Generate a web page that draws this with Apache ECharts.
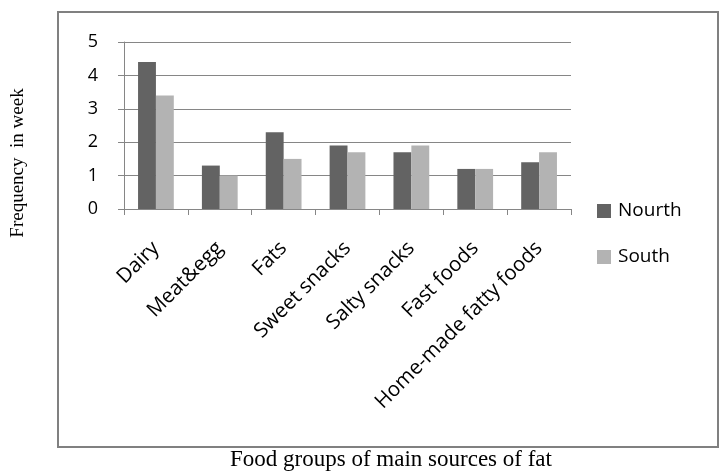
<!DOCTYPE html>
<html>
<head>
<meta charset="utf-8">
<script src="https://cdn.jsdelivr.net/npm/echarts@6/dist/echarts.min.js"></script>
<style>
  html, body { margin: 0; padding: 0; background: #fff; }
  #chart { width: 726px; height: 471px; }
</style>
</head>
<body>
<div id="chart"></div>
<script>
// Food groups and weekly intake frequency by region
const categories = ['Dairy', 'Meat&egg', 'Fats', 'Sweet snacks', 'Salty snacks', 'Fast foods', 'Home-made fatty foods'];
const north = [4.4, 1.3, 2.3, 1.9, 1.7, 1.2, 1.4];
const south = [3.4, 1.0, 1.5, 1.7, 1.9, 1.2, 1.7];
const seriesNames = ['Nourth', 'South'];
const yTicks = [0, 1, 2, 3, 4, 5];
const xTitle = 'Food groups of main sources of fat';
const yTitle = 'Frequency  in week';

const axisGray = '#868686';
const sans = '"Open Sans", "Noto Sans", sans-serif';
const serif = '"Liberation Serif", "DejaVu Serif", serif';

const chart = echarts.init(document.getElementById('chart'), null, { renderer: 'canvas' });
chart.setOption({
  animation: false,
  backgroundColor: '#ffffff',
  graphic: [
    {
      type: 'rect',
      shape: { x: 58, y: 12, width: 660, height: 435 },
      style: { fill: 'none', stroke: '#808080', lineWidth: 2 },
      z: 0
    },
    {
      type: 'text',
      x: 18, y: 163,
      rotation: Math.PI / 2,
      style: { text: yTitle, font: '19px ' + serif, fill: '#000', align: 'center', verticalAlign: 'middle' }
    },
    {
      type: 'text',
      x: 391, y: 460,
      style: { text: xTitle, font: '23px ' + serif, fill: '#000', align: 'center', verticalAlign: 'middle' }
    }
  ],
  grid: { left: 124, right: 155, top: 42, bottom: 262, outerBoundsMode: 'none', containLabel: false },
  legend: {
    orient: 'vertical',
    left: 592,
    top: 196,
    itemWidth: 14,
    itemHeight: 14,
    itemGap: 26,
    icon: 'rect',
    data: seriesNames,
    textStyle: { fontFamily: sans, fontSize: 19, color: '#000', lineHeight: 20, padding: [0, 0, 0, 2] }
  },
  xAxis: {
    type: 'category',
    data: categories,
    axisLine: { lineStyle: { color: axisGray, width: 1 } },
    axisTick: { show: true, alignWithLabel: false, length: 6, lineStyle: { color: axisGray } },
    axisLabel: { rotate: 45, fontFamily: sans, fontSize: 20.5, color: '#000', margin: 36, interval: 0 }
  },
  yAxis: {
    type: 'value',
    min: yTicks[0],
    max: yTicks[yTicks.length - 1],
    interval: 1,
    axisLine: { show: true, lineStyle: { color: axisGray, width: 1 } },
    axisTick: { show: true, length: 6, lineStyle: { color: axisGray } },
    splitLine: { show: true, lineStyle: { color: axisGray, width: 1 } },
    axisLabel: { fontFamily: sans, fontSize: 18, color: '#000', margin: 26 }
  },
  series: [
    {
      name: seriesNames[0],
      type: 'bar',
      data: north,
      itemStyle: { color: '#636363' },
      barGap: '0%',
      barCategoryGap: '44%'
    },
    {
      name: seriesNames[1],
      type: 'bar',
      data: south,
      itemStyle: { color: '#b3b3b3' },
      barGap: '0%',
      barCategoryGap: '44%'
    }
  ]
});
</script>
</body>
</html>
